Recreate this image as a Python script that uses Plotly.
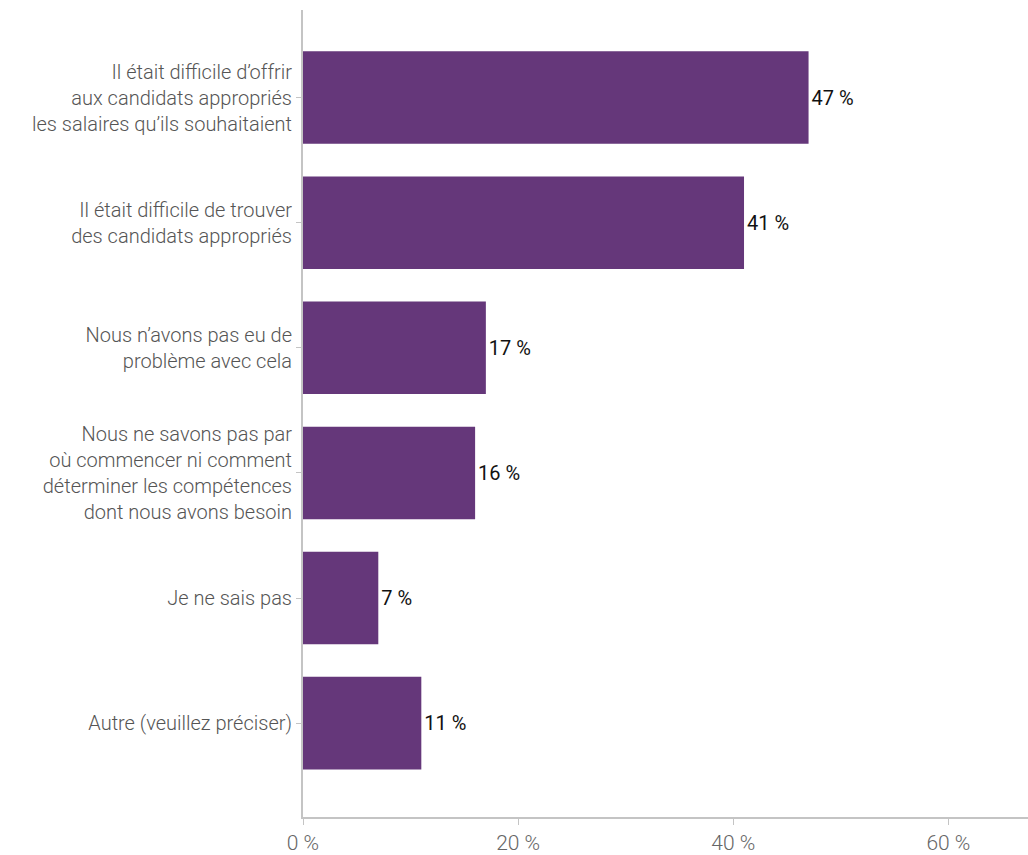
import plotly.graph_objects as go

categories = [
    "Il était difficile d’offrir<br>aux candidats appropriés<br>les salaires qu’ils souhaitaient",
    "Il était difficile de trouver<br>des candidats appropriés",
    "Nous n’avons pas eu de<br>problème avec cela",
    "Nous ne savons pas par<br>où commencer ni comment<br>déterminer les compétences<br>dont nous avons besoin",
    "Je ne sais pas",
    "Autre (veuillez préciser)",
]
values = [47, 41, 17, 16, 7, 11]
x_ticks = [0, 20, 40, 60]

bar_color = "#65377a"
axis_color = "#c4c4c4"
font_family = "Roboto, 'Noto Sans', sans-serif"

fig = go.Figure(
    go.Bar(
        x=values,
        y=categories,
        orientation="h",
        marker=dict(color=bar_color, line=dict(width=0)),
        width=0.74,
        text=[f"{v} %" for v in values],
        textposition="outside",
        textfont=dict(family=font_family, size=20, color="#111111"),
        cliponaxis=False,
        hoverinfo="skip",
    )
)

fig.update_layout(
    width=1028,
    height=855,
    margin=dict(l=303, r=0, t=10, b=35),
    paper_bgcolor="white",
    plot_bgcolor="white",
    showlegend=False,
    bargap=0.26,
    font=dict(family=font_family),
)

fig.update_xaxes(
    range=[0, 67.4],
    tickvals=x_ticks,
    ticktext=[f"{t} %" for t in x_ticks],
    tickfont=dict(family=font_family, size=21, color="#666666", weight=300),
    showgrid=False,
    zeroline=False,
    showline=True,
    linecolor=axis_color,
    linewidth=2,
    ticks="outside",
    ticklen=6,
    tickwidth=1,
    tickcolor=axis_color,
    fixedrange=True,
)

fig.update_yaxes(
    categoryorder="array",
    categoryarray=categories,
    range=[5.75, -0.7],
    tickfont=dict(family=font_family, size=20, color="#555555", weight=300),
    showgrid=False,
    zeroline=False,
    showline=True,
    linecolor=axis_color,
    linewidth=2,
    ticks="outside",
    ticklen=5,
    tickwidth=1,
    tickcolor=axis_color,
    fixedrange=True,
)

fig.write_html("out.html")
